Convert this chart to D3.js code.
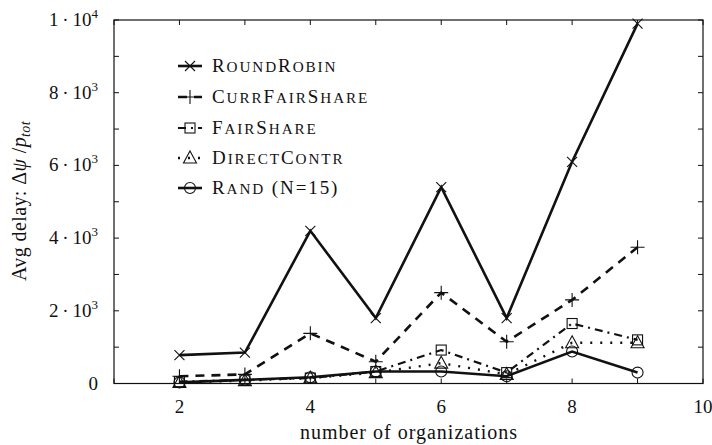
<!DOCTYPE html>
<html><head><meta charset="utf-8">
<script src="https://cdn.jsdelivr.net/npm/d3@7"></script>
<style>body{margin:0;background:#fff}svg{display:block}text{font-family:"Liberation Serif","DejaVu Serif",serif;fill:#111}</style>
</head><body><svg id="c" width="712" height="445"></svg>
<script>
const xs = [2,3,4,5,6,7,8,9];
const roundRobin   = [780, 850, 4200, 1800, 5400, 1800, 6100, 9900];
const currFairShare= [200, 250, 1380, 600, 2500, 1150, 2300, 3750];
const fairShare    = [50, 100, 150, 330, 920, 300, 1650, 1200];
const directContr  = [30, 80, 150, 300, 560, 250, 1120, 1120];
const rand15       = [30, 100, 170, 330, 330, 200, 880, 300];
const xTicks = [1,2,3,4,5,6,7,8,9,10];
const xLabels = [2,4,6,8,10];
const yTicks = [0,1000,2000,3000,4000,5000,6000,7000,8000,9000,10000];
const yLabels = [[0,"0",""],[2000,"2","3"],[4000,"4","3"],[6000,"6","3"],[8000,"8","3"],[10000,"1","4"]];
const seriesNames = ["RoundRobin","CurrFairShare","FairShare","DirectContr","Rand (N=15)"];

const svg = d3.select("#c");
const L=114,R=703,T=20,B=383.5;
const x = d3.scaleLinear([1,10],[L,R]);
const y = d3.scaleLinear([0,10000],[B,T]);
const ink="#111";

// ticks
const g = svg.append("g");
xTicks.forEach(v=>{
  g.append("line").attr("x1",x(v)).attr("x2",x(v)).attr("y1",B).attr("y2",B-5).attr("stroke",ink);
  g.append("line").attr("x1",x(v)).attr("x2",x(v)).attr("y1",T).attr("y2",T+5).attr("stroke",ink);
});
yTicks.forEach(v=>{
  g.append("line").attr("x1",L).attr("x2",L+5).attr("y1",y(v)).attr("y2",y(v)).attr("stroke",ink);
  g.append("line").attr("x1",R).attr("x2",R-5).attr("y1",y(v)).attr("y2",y(v)).attr("stroke",ink);
});
xLabels.forEach(v=>{
  g.append("text").attr("x",x(v)).attr("y",413).attr("text-anchor","middle").attr("font-size",19).text(v);
});
yLabels.forEach(([v,a,b])=>{
  const t=g.append("text").attr("x",98).attr("y",y(v)+6).attr("text-anchor","end").attr("font-size",19);
  if(b){
    t.append("tspan").text(a+"\u2009·\u200910");
    t.append("tspan").attr("dy",-8).attr("font-size",13).text(b);
  } else t.append("tspan").text(a);
});
svg.append("text").attr("x",409).attr("y",439).attr("text-anchor","middle").attr("font-size",20)
  .attr("letter-spacing",1).text("number of organizations");
const yt = svg.append("text").attr("transform","translate(26,201) rotate(-90)").attr("text-anchor","middle")
  .attr("font-size",20).attr("letter-spacing",0.4);
yt.append("tspan").text("Avg delay: Δ");
yt.append("tspan").attr("font-style","italic").text("ψ");
yt.append("tspan").text(" /");
yt.append("tspan").attr("font-style","italic").text("p");
yt.append("tspan").attr("font-style","italic").attr("font-size",14).attr("dy",4).text("tot");

// frame
svg.append("rect").attr("x",L).attr("y",T).attr("width",R-L).attr("height",B-T).attr("fill","none").attr("stroke",ink).attr("stroke-width",1.2);

const styles = [
  {data:roundRobin, w:2.6, dash:null, m:"x"},
  {data:currFairShare, w:2.6, dash:"9,7", m:"+"},
  {data:fairShare, w:2.2, dash:"8,5,2,5", m:"sq"},
  {data:directContr, w:2.4, dash:"2,8", m:"tri"},
  {data:rand15, w:2.6, dash:null, m:"o"}
];
const line = d3.line().x((d,i)=>x(xs[i])).y(d=>y(d));
const lg = svg.append("g");
styles.forEach(s=>{
  lg.append("path").datum(s.data).attr("d",line).attr("fill","none").attr("stroke",ink)
    .attr("stroke-width",s.w).attr("stroke-dasharray",s.dash).attr("stroke-linejoin","miter");
});
function marker(sel,type,cx,cy){
  const st={stroke:ink,"stroke-width":1.1,fill:"none"};
  let e;
  if(type==="x"){
    e=sel.append("path").attr("d",`M${cx-5},${cy-5}L${cx+5},${cy+5}M${cx-5},${cy+5}L${cx+5},${cy-5}`);
  } else if(type==="+"){
    e=sel.append("path").attr("d",`M${cx-7},${cy}L${cx+7},${cy}M${cx},${cy-7}L${cx},${cy+7}`);
  } else if(type==="sq"){
    e=sel.append("rect").attr("x",cx-5).attr("y",cy-5).attr("width",10).attr("height",10);
  } else if(type==="tri"){
    e=sel.append("path").attr("d",`M${cx},${cy-7}L${cx+6.5},${cy+5}L${cx-6.5},${cy+5}Z`);
  } else {
    e=sel.append("circle").attr("cx",cx).attr("cy",cy).attr("r",5.5);
  }
  Object.entries(st).forEach(([k,v])=>e.attr(k,v));
}
const mg = svg.append("g");
styles.forEach(s=>{
  s.data.forEach((d,i)=>marker(mg,s.m,x(xs[i]),y(d)));
});

function smallCaps(t,str,fs){
  let runs=[];
  for(const ch of str){
    const low = ch!==ch.toUpperCase();
    const last=runs[runs.length-1];
    if(last && last.low===low) last.s+=ch; else runs.push({low,s:ch});
  }
  runs.forEach(r=>t.append("tspan").attr("font-size",r.low?fs*0.8:fs).text(r.low?r.s.toUpperCase():r.s));
}
// legend
const legY=[66,97,128,158,188];
seriesNames.forEach((n,i)=>{
  const s=styles[i], yy=legY[i];
  svg.append("line").attr("x1",178).attr("x2",202).attr("y1",yy).attr("y2",yy).attr("stroke",ink)
    .attr("stroke-width",s.w).attr("stroke-dasharray",s.dash);
  marker(svg,s.m,190,yy);
  const t=svg.append("text").attr("x",212).attr("y",yy+6).attr("font-size",19).attr("letter-spacing",1.9);
  smallCaps(t,n,19);
});
</script></body></html>
